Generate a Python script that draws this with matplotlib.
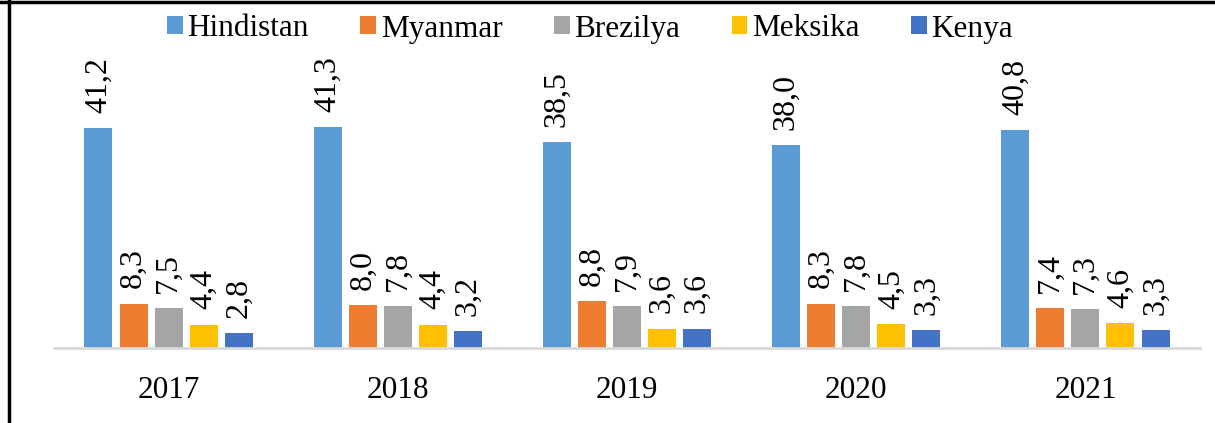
import matplotlib.pyplot as plt
import numpy as np

years = ["2017", "2018", "2019", "2020", "2021"]
countries = ["Hindistan", "Myanmar", "Brezilya", "Meksika", "Kenya"]
hindistan = [41.2, 41.3, 38.5, 38.0, 40.8]
myanmar = [8.3, 8.0, 8.8, 8.3, 7.4]
brezilya = [7.5, 7.8, 7.9, 7.8, 7.3]
meksika = [4.4, 4.4, 3.6, 4.5, 4.6]
kenya = [2.8, 3.2, 3.6, 3.3, 3.3]
colors = ["#5B9BD5", "#ED7D31", "#A5A5A5", "#FFC000", "#4472C4"]

plt.rcParams['font.family'] = ['Liberation Serif', 'DejaVu Serif']

W, H = 1215, 423
fig = plt.figure(figsize=(W / 100, H / 100), dpi=100)
# axes box in pixels: x 54..1200, baseline at y=348
ax = fig.add_axes([54 / W, (H - 348) / H, (1200 - 54) / W, (348 - 81) / H])

series = [hindistan, myanmar, brezilya, meksika, kenya]
x = np.arange(len(years))
pitch = 0.153
width = 0.122
for i, (name, vals) in enumerate(zip(countries, series)):
    pos = x + (i - 2) * pitch
    ax.bar(pos, vals, width=width, color=colors[i], label=name, zorder=2)
    for p, v in zip(pos, vals):
        ax.annotate(("%.1f" % v).replace(".", ","), (p, v), xytext=(0, 11),
                    textcoords="offset points", rotation=90, ha="center",
                    va="bottom", fontsize=23, annotation_clip=False)

ax.set_xlim(-0.5, len(years) - 0.5)
ax.set_ylim(0, 50)
ax.set_yticks([])
ax.set_xticks(x)
ax.set_xticklabels(years, fontsize=22.5)
ax.tick_params(axis="x", length=0, pad=20)
for s in ["top", "right", "left"]:
    ax.spines[s].set_visible(False)
ax.spines["bottom"].set_color("#D9D9D9")
ax.spines["bottom"].set_linewidth(2)

fig.legend(loc="center", bbox_to_anchor=(590 / W, 1 - 29 / H), ncol=5, frameon=False,
           fontsize=22.5, handlelength=0.5, handleheight=0.5, handletextpad=0.15,
           columnspacing=1.65)

# frame lines of the original picture
fig.add_artist(plt.Line2D([9 / W, 9 / W], [0, 1], color="black", lw=2.5))
fig.add_artist(plt.Line2D([0, 1], [1 - 2 / H, 1 - 2 / H], color="black", lw=2.5))

fig.savefig("out.png", dpi=100)
